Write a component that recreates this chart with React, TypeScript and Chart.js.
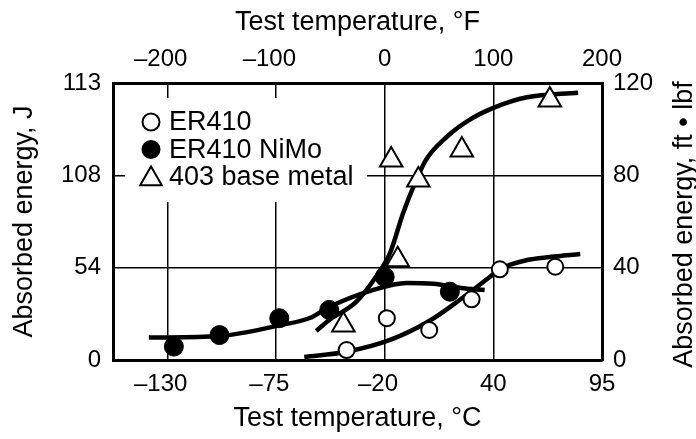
import React, { useEffect, useRef } from "react";
import { Chart, registerables } from "chart.js";

Chart.register(...registerables);

const FONT = "'Liberation Sans', Arial, Helvetica, sans-serif";

// Temperatures in °F (linear scale of the chart), energies in ft·lbf
const er410Temp = [-35, 2, 41, 80, 106, 157];
const er410Energy = [4.3, 18.1, 13.0, 26.3, 39.3, 40.4];
const nimoTemp = [-194, -152, -97, -51, 0, 60];
const nimoEnergy = [5.8, 10.8, 18.1, 21.7, 36.0, 29.6];
const baseTemp = [-38, 12, 6, 31, 71, 152];
const baseEnergy = [15.2, 43.4, 86.6, 78.0, 91.0, 112.6];

const er410CurveTemp = [-74, -35, 5, 41, 69, 97, 106, 131, 152, 180];
const er410CurveEnergy = [1.3, 3.6, 8.7, 16.9, 26.0, 36.1, 39.4, 43.3, 44.6, 45.9];
const nimoCurveTemp = [-217, -152, -97, -69, -51, -11, 20, 45, 70, 92];
const nimoCurveEnergy = [9.7, 10.4, 15.0, 18.2, 23.0, 30.3, 33.4, 33.0, 31.2, 30.3];
const baseCurveTemp = [-63, -51, -26, -8, 5, 17, 28, 38, 57, 78, 100, 131, 178];
const baseCurveEnergy = [12.6, 17.3, 25.3, 36.1, 46.4, 63.7, 76.7, 86.7, 96.6, 104.0, 109.2, 113.8, 115.8];

const seriesLabels = ["ER410", "ER410 NiMo", "403 base metal"];

const fTicks = [-200, -100, 0, 100, 200];
const fLabels = ["–200", "–100", "0", "100", "200"];
const cLabels = ["–130", "–75", "–20", "40", "95"];
const energyTicks = [0, 40, 80, 120];
const jouleLabels = ["0", "54", "108", "113"];
const ftlbfLabels = ["0", "40", "80", "120"];
const tempMin = -250;
const tempMax = 200;
const energyMin = 0;
const energyMax = 120;

const topTitle = "Test temperature, °F";
const bottomTitle = "Test temperature, °C";
const leftTitle = "Absorbed energy, J";
const rightTitle = "Absorbed energy, ft • lbf";

const zip = (xs: number[], ys: number[]) => xs.map((x, i) => ({ x, y: ys[i] }));
// keep digits centred on the tick, minus sign hanging to the left
const hang = (s: string) => (s.startsWith("–") ? s + "\u2007" : s);

const TICK_FONT = { family: FONT, size: 24 };
const TITLE_FONT = { family: FONT, size: 27 };

function drawMarker(ctx: CanvasRenderingContext2D, style: string, r: number, x: number, y: number, fill: string) {
  ctx.beginPath();
  if (style === "triangle") {
    let rad = 0;
    ctx.moveTo(x + Math.sin(rad) * r, y - Math.cos(rad) * r);
    rad += (2 * Math.PI) / 3;
    ctx.lineTo(x + Math.sin(rad) * r, y - Math.cos(rad) * r);
    rad += (2 * Math.PI) / 3;
    ctx.lineTo(x + Math.sin(rad) * r, y - Math.cos(rad) * r);
    ctx.closePath();
  } else {
    ctx.arc(x, y, r, 0, Math.PI * 2);
  }
  ctx.fillStyle = fill;
  ctx.fill();
  ctx.lineWidth = 2;
  ctx.strokeStyle = "#000";
  ctx.stroke();
}

const legendPlugin = {
  id: "insetLegend",
  beforeDatasetsDraw(chart: any) {
    const { ctx, chartArea } = chart;
    const left = chartArea.left;
    const top = chartArea.top;
    ctx.save();
    ctx.fillStyle = "#fff";
    ctx.fillRect(left + 12, top + 15, 242, 104);
    ctx.font = `27px ${FONT}`;
    ctx.textBaseline = "middle";
    ctx.textAlign = "left";
    for (let i = 0; i < 3; i++) {
      const ds = chart.data.datasets[i];
      const cy = top + 39 + i * 27.5;
      const r = ds.pointStyle === "triangle" ? 12.5 : 8.5;
      drawMarker(ctx, ds.pointStyle, r, left + 38, cy + (ds.pointStyle === "triangle" ? 2 : 0), ds.pointBackgroundColor);
      ctx.fillStyle = "#000";
      ctx.fillText(ds.label, left + 56, cy + 1);
    }
    ctx.restore();
  },
  afterDraw(chart: any) {
    const { ctx, chartArea } = chart;
    ctx.save();
    ctx.translate(chart.width - 11, (chartArea.top + chartArea.bottom) / 2 + 3);
    ctx.rotate(-Math.PI / 2);
    ctx.font = `27px ${FONT}`;
    ctx.fillStyle = "#000";
    ctx.textAlign = "center";
    ctx.textBaseline = "middle";
    ctx.fillText(rightTitle, 0, 0);
    ctx.restore();
  },
};

export default function App() {
  const ref = useRef<HTMLCanvasElement>(null);
  useEffect(() => {
    document.body.style.margin = "0";
    const canvas = ref.current!;
    const gridOn = { color: "#000", lineWidth: 1.5, drawTicks: false };
    const gridOff = { display: false, drawTicks: false };
    const border = { display: true, color: "#000", width: 3 };
    const chart = new Chart(canvas, {
      type: "scatter",
      data: {
        datasets: [
          {
            label: seriesLabels[0],
            data: zip(er410Temp, er410Energy),
            pointStyle: "circle",
            pointRadius: 8,
            pointBorderWidth: 2,
            pointBackgroundColor: "#fff",
            pointBorderColor: "#000",
            showLine: false,
          },
          {
            label: seriesLabels[1],
            data: zip(nimoTemp, nimoEnergy),
            pointStyle: "circle",
            pointRadius: 9.5,
            pointBorderWidth: 1,
            pointBackgroundColor: "#000",
            pointBorderColor: "#000",
            showLine: false,
          },
          {
            label: seriesLabels[2],
            data: zip(baseTemp, baseEnergy),
            pointStyle: "triangle",
            pointRadius: 13,
            pointBorderWidth: 2,
            pointBackgroundColor: "#fff",
            pointBorderColor: "#000",
            showLine: false,
          },
          {
            label: "ER410 fit",
            data: zip(er410CurveTemp, er410CurveEnergy),
            showLine: true,
            pointRadius: 0,
            borderColor: "#000",
            borderWidth: 4.5,
            cubicInterpolationMode: "monotone",
          },
          {
            label: "ER410 NiMo fit",
            data: zip(nimoCurveTemp, nimoCurveEnergy),
            showLine: true,
            pointRadius: 0,
            borderColor: "#000",
            borderWidth: 4.5,
            cubicInterpolationMode: "monotone",
          },
          {
            label: "403 fit",
            data: zip(baseCurveTemp, baseCurveEnergy),
            showLine: true,
            pointRadius: 0,
            borderColor: "#000",
            borderWidth: 4.5,
            cubicInterpolationMode: "monotone",
          },
        ],
      },
      options: {
        animation: false,
        responsive: false,
        devicePixelRatio: 1,
        layout: { padding: 0 },
        plugins: { legend: { display: false }, tooltip: { enabled: false } },
        scales: {
          x: {
            type: "linear",
            position: "bottom",
            min: tempMin,
            max: tempMax,
            afterBuildTicks: (s: any) => {
              s.ticks = fTicks.map((v) => ({ value: v }));
            },
            afterFit: (s: any) => {
              s.height = 79;
            },
            grid: gridOn,
            border,
            ticks: {
              color: "#000",
              font: TICK_FONT,
              padding: 10,
              maxRotation: 0,
              autoSkip: false,
              callback: (_v: any, i: number) => hang(cLabels[i]),
            },
            title: { display: true, text: bottomTitle, color: "#000", font: TITLE_FONT, padding: { top: 0, bottom: 4 } },
          },
          xTop: {
            type: "linear",
            position: "top",
            min: tempMin,
            max: tempMax,
            afterBuildTicks: (s: any) => {
              s.ticks = fTicks.map((v) => ({ value: v }));
            },
            afterFit: (s: any) => {
              s.height = 83;
            },
            grid: gridOff,
            border,
            ticks: {
              color: "#000",
              font: TICK_FONT,
              padding: 9,
              maxRotation: 0,
              autoSkip: false,
              callback: (_v: any, i: number) => hang(fLabels[i]),
            },
            title: { display: true, text: topTitle, color: "#000", font: TITLE_FONT, padding: { top: 6, bottom: 0 } },
          },
          y: {
            type: "linear",
            position: "left",
            min: energyMin,
            max: energyMax,
            afterBuildTicks: (s: any) => {
              s.ticks = energyTicks.map((v) => ({ value: v }));
            },
            afterFit: (s: any) => {
              s.width = 113;
            },
            grid: gridOn,
            border,
            ticks: {
              color: "#000",
              font: TICK_FONT,
              padding: 12,
              autoSkip: false,
              callback: (_v: any, i: number) => jouleLabels[i],
            },
            title: { display: true, text: leftTitle, color: "#000", font: TITLE_FONT, padding: { top: 8, bottom: 0 } },
          },
          yRight: {
            type: "linear",
            position: "right",
            min: energyMin,
            max: energyMax,
            afterBuildTicks: (s: any) => {
              s.ticks = energyTicks.map((v) => ({ value: v }));
            },
            afterFit: (s: any) => {
              s.width = 94;
            },
            grid: gridOff,
            border,
            ticks: {
              color: "#000",
              font: TICK_FONT,
              padding: 11,
              autoSkip: false,
              callback: (_v: any, i: number) => ftlbfLabels[i],
            },
          },
        },
      },
      plugins: [legendPlugin],
    } as any);
    return () => chart.destroy();
  }, []);
  return <canvas ref={ref} width={696} height={439} style={{ display: "block" }} />;
}
